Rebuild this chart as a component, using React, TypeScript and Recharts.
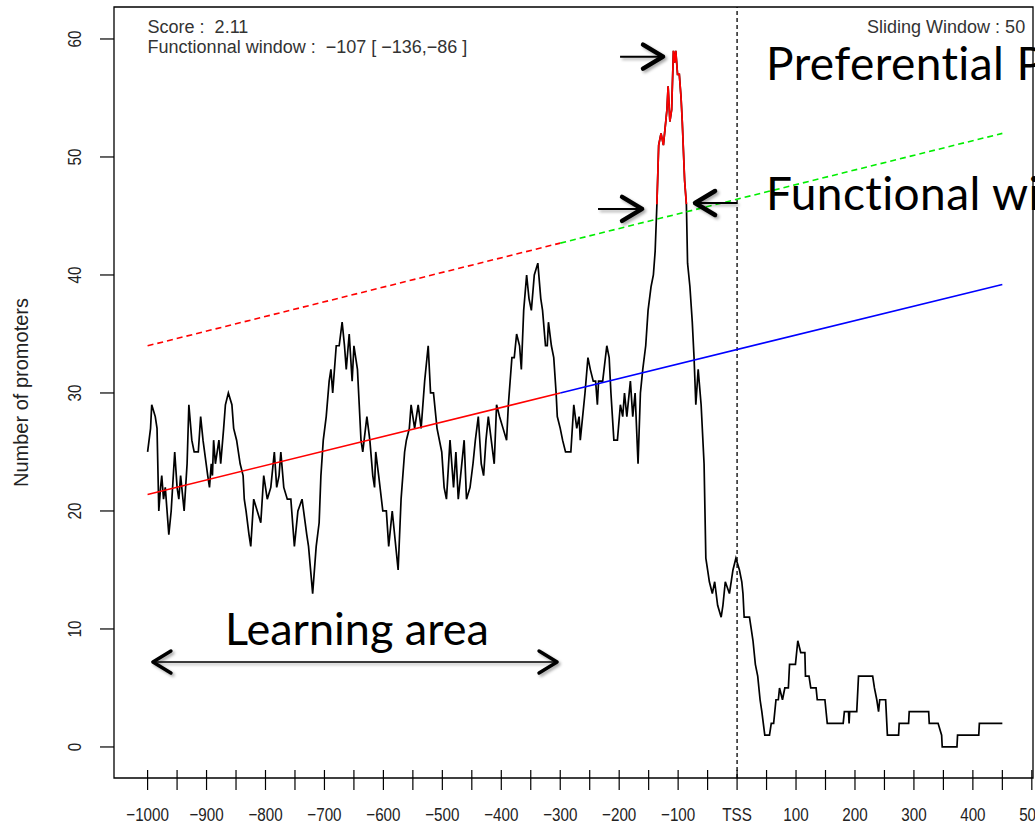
import React from "react";
import {
  LineChart, Line, XAxis, YAxis, ReferenceLine, ReferenceArea, ReferenceDot,
} from "recharts";

// sliding-window promoter counts
const positions = [
  -1000, -995, -993, -987, -984, -981, -978, -976, -973, -970, -964, -960, -954, -950, -947, -944,
  -938, -933, -930, -925, -921, -914, -910, -906, -898, -895, -892, -890, -888, -885, -879, -876,
  -871, -868, -863, -857, -854, -849, -843, -838, -836, -833, -828, -825, -820, -814, -808, -803,
  -797, -791, -785, -781, -777, -774, -769, -763, -757, -751, -745, -738, -730, -727, -720, -714,
  -709, -706, -702, -697, -692, -689, -686, -680, -675, -670, -666, -663, -658, -653, -650, -644,
  -641, -638, -635, -628, -623, -618, -615, -613, -608, -601, -595, -591, -585, -575, -570, -564,
  -561, -556, -553, -547, -541, -536, -530, -524, -520, -515, -511, -509, -501, -497, -493, -487,
  -481, -477, -473, -469, -463, -459, -453, -448, -444, -439, -434, -430, -426, -422, -417, -412,
  -408, -403, -397, -391, -388, -382, -378, -374, -369, -366, -362, -357, -353, -349, -344, -338,
  -333, -330, -325, -322, -320, -315, -311, -307, -305, -300, -296, -291, -282, -277, -272, -268,
  -266, -262, -258, -253, -249, -244, -240, -237, -235, -228, -221, -217, -214, -209, -203, -198,
  -194, -191, -187, -181, -177, -173, -168, -164, -160, -155, -151, -146, -142, -139, -136, -133,
  -129, -125, -121, -119, -117, -114, -111, -108, -106, -104, -101, -98, -95, -93, -89, -86,
  -84, -80, -76, -73, -70, -66, -61, -56, -53, -50, -47, -42, -38, -33, -27, -24,
  -20, -13, -7, -2, 4, 8, 10, 12, 21, 24, 27, 31, 35, 39, 42, 47,
  55, 58, 62, 66, 70, 72, 77, 81, 87, 89, 99, 103, 108, 115, 116, 122,
  125, 134, 136, 149, 153, 180, 182, 189, 190, 191, 203, 206, 230, 233, 237, 240,
  242, 252, 255, 274, 275, 291, 292, 325, 326, 341, 347, 348, 373, 374, 410, 411,
  450,
];
const counts = [
  25, 27, 29, 28, 27, 20, 22, 23, 21, 22, 18, 20, 25, 22, 21, 23,
  20, 24, 29, 26, 25, 25, 28, 26, 23, 22, 24, 23, 26, 24, 26, 24,
  27, 29, 30, 29, 27, 26, 24, 23, 21, 20, 18, 17, 21, 20, 19, 23,
  21, 22, 25, 22, 23, 25, 22, 21, 21, 17, 20, 21, 18, 17, 13, 17,
  19, 23, 26, 28, 31, 32, 30, 34, 34, 36, 34, 32, 35, 31, 34, 32,
  29, 26, 25, 28, 26, 23, 22, 25, 23, 20, 20, 17, 20, 15, 21, 25,
  26, 27, 29, 27, 29, 27, 31, 34, 30, 30, 28, 27, 25, 22, 21, 26,
  22, 25, 21, 23, 26, 21, 22, 24, 26, 28, 24, 23, 26, 28, 26, 24,
  29, 28, 27, 26, 29, 33, 33, 35, 34, 32, 37, 40, 38, 37, 40, 41,
  38, 37, 34, 34, 36, 34, 33, 30, 28, 27, 26, 25, 25, 29, 27, 28,
  26, 28, 30, 33, 32, 31, 31, 29, 31, 31, 34, 33, 30, 26, 26, 29,
  28, 30, 28, 31, 28, 30, 24, 30, 32, 34, 37, 39, 40, 42, 46, 51,
  52, 51, 53, 54, 56, 53, 54, 59, 58, 59, 57, 57, 55, 53, 48, 46,
  41, 39, 36, 33, 29, 32, 29, 24, 16, 15, 14, 13, 14, 12, 11, 12,
  14, 13, 15, 16, 15, 14, 13, 11, 11, 10, 9, 7, 6, 4, 3, 1,
  1, 2, 2, 4, 4, 5, 4, 5, 5, 7, 7, 9, 8, 8, 6, 6,
  5, 5, 4, 4, 2, 2, 3, 3, 2, 3, 3, 6, 6, 5, 4, 3,
  4, 4, 1, 1, 2, 2, 3, 3, 2, 2, 1, 0, 0, 1, 1, 2,
  2,
];

// functional window [-136, -86]
const windowStart = -136;
const windowEnd = -86;

// regression line (learning area -> extrapolation) and its threshold
const fitX = [-1000, -300, 450];
const fitBase = [21.4, 30.0, 39.2];
const fitUpper = [34.0, 42.7, 52.0];

const xTicks = [
  -1000, -950, -900, -850, -800, -750, -700, -650, -600, -550, -500, -450, -400, -350, -300, -250,
  -200, -150, -100, -50, 0, 50, 100, 150, 200, 250, 300, 350, 400, 450, 500,
];
const xLabelValues = [-1000, -900, -800, -700, -600, -500, -400, -300, -200, -100, 0, 100, 200, 300, 400, 500];
const xLabelText = ["−1000", "−900", "−800", "−700", "−600", "−500", "−400", "−300", "−200", "−100", "TSS", "100", "200", "300", "400", "500"];
const yTicks = [0, 10, 20, 30, 40, 50, 60];

const xDomain = [-1057, 502];
const yDomain = [-2.63, 62.71];

const curve = positions.map((x, i) => ({
  x,
  count: counts[i],
  peak: x >= windowStart && x <= windowEnd ? counts[i] : null,
}));
const seg = (ys: number[], a: number, b: number) => [
  { x: fitX[a], v: ys[a] },
  { x: fitX[b], v: ys[b] },
];

const helv = "'Liberation Sans', Arial, sans-serif";
const calibri = "Lato, 'Open Sans', sans-serif";

const XTick = (props: any) => {
  const { x, y, payload } = props;
  const i = xLabelValues.indexOf(payload.value);
  return (
    <g>
      <line x1={x} x2={x} y1={y - 8} y2={y + 12} stroke="#000" strokeWidth={1.2} />
      {i >= 0 && (
        <text transform={`translate(${x} ${y + 43}) scale(0.8 1)`} textAnchor="middle"
          fontFamily={helv} fontSize={19} fill="#222">
          {xLabelText[i]}
        </text>
      )}
    </g>
  );
};

const YTick = (props: any) => {
  const { x, y, payload } = props;
  const tx = x - 19;
  return (
    <text transform={`translate(${tx} ${y}) rotate(-90) scale(0.8 1)`} textAnchor="middle"
      fontFamily={helv} fontSize={19} fill="#222">
      {payload.value}
    </text>
  );
};

const YTitle = (props: any) => {
  const { viewBox } = props;
  const cx = 28;
  const cy = viewBox.y + viewBox.height / 2;
  return (
    <text x={cx} y={cy} transform={`rotate(-90 ${cx} ${cy})`} textAnchor="middle"
      fontFamily={helv} fontSize={20} fill="#222">
      Number of promoters
    </text>
  );
};

const chevron = (tx: number, ty: number, dx: number, dy: number, len: number, half: number) => {
  const l = Math.hypot(dx, dy) || 1;
  const ux = dx / l, uy = dy / l;
  const bx = tx - ux * len, by = ty - uy * len;
  return `M${bx - uy * half},${by + ux * half} L${tx},${ty} L${bx + uy * half},${by - ux * half}`;
};

const arrowShape = (both: boolean, thin: boolean) => (p: any) => {
  const { x1, y1, x2, y2 } = p;
  const dx = x2 - x1, dy = y2 - y1;
  return (
    <g filter="url(#annShadow)">
      <defs>
        <filter id="annShadow" x="-20%" y="-50%" width="140%" height="200%">
          <feDropShadow dx="2" dy="2" stdDeviation="1.5" floodColor="#000" floodOpacity="0.35" />
        </filter>
      </defs>
      <line x1={x1} y1={y1} x2={x2} y2={y2} stroke="#000" strokeWidth={thin ? 1.6 : 2} />
      <path d={chevron(x2, y2, dx, dy, thin ? 18 : 20, thin ? 11 : 12)} fill="none" stroke="#000"
        strokeWidth={thin ? 3.5 : 4.5} strokeLinecap="round" strokeLinejoin="round" />
      {both && (
        <path d={chevron(x1, y1, -dx, -dy, thin ? 18 : 20, thin ? 11 : 12)} fill="none" stroke="#000"
          strokeWidth={thin ? 3.5 : 4.5} strokeLinecap="round" strokeLinejoin="round" />
      )}
    </g>
  );
};

const textShape = (txt: string, opts: any) => (p: any) => (
  <text x={p.cx} y={p.cy} {...opts}>{txt}</text>
);

const nb = "\u00a0";

export default function App() {
  return (
    <div style={{ position: "absolute", left: 0, top: 0, width: 1035, height: 824, overflow: "hidden", background: "#fff" }}>
      <LineChart width={1200} height={824} margin={{ top: 7, right: 167, bottom: 0, left: 0 }}>
        <XAxis dataKey="x" type="number" domain={xDomain} ticks={xTicks} interval={0}
          axisLine={false} tickLine={false} tickSize={0} tickMargin={0} tick={<XTick />} height={46} />
        <YAxis type="number" domain={yDomain} ticks={yTicks} width={114} axisLine={false}
          tickLine={{ stroke: "#000", strokeWidth: 1.2 }} tickSize={14} tickMargin={0}
          tick={<YTick />} label={<YTitle />} />
        <ReferenceArea x1={xDomain[0]} x2={xDomain[1]} y1={yDomain[0]} y2={yDomain[1]} ifOverflow="visible"
          fill="none" fillOpacity={0} stroke="#000" strokeWidth={1.3} />
        <ReferenceLine x={0} stroke="#000" strokeWidth={1.3} strokeDasharray="4 3" />

        <Line data={curve} dataKey="count" type="linear" stroke="#000" strokeWidth={1.7}
          dot={false} isAnimationActive={false} />
        <Line data={seg(fitBase, 0, 1)} dataKey="v" stroke="#ff0000" strokeWidth={1.6} dot={false} isAnimationActive={false} />
        <Line data={seg(fitBase, 1, 2)} dataKey="v" stroke="#0000ff" strokeWidth={1.6} dot={false} isAnimationActive={false} />
        <Line data={seg(fitUpper, 0, 1)} dataKey="v" stroke="#ff0000" strokeWidth={1.6} strokeDasharray="6 4" dot={false} isAnimationActive={false} />
        <Line data={seg(fitUpper, 1, 2)} dataKey="v" stroke="#00ee00" strokeWidth={1.6} strokeDasharray="6 4" dot={false} isAnimationActive={false} />
        <Line data={curve} dataKey="peak" type="linear" stroke="#ff0000" strokeWidth={1.7}
          dot={false} connectNulls={false} isAnimationActive={false} />

        <ReferenceDot x={-1000} y={60.5} r={0} ifOverflow="visible"
          shape={textShape(`Score :${nb}${nb}2.11`, { fontFamily: helv, fontSize: 18, fill: "#333" })} />
        <ReferenceDot x={-1000} y={58.8} r={0} ifOverflow="visible"
          shape={textShape(`Functionnal window :${nb}${nb}−107 [ −136,−86 ]`, { fontFamily: helv, fontSize: 18, fill: "#333" })} />
        <ReferenceDot x={488.7} y={60.5} r={0} ifOverflow="visible"
          shape={textShape("Sliding Window : 50", { fontFamily: helv, fontSize: 18, fill: "#333", textAnchor: "end" })} />

        <ReferenceLine segment={[{ x: -198.5, y: 58.5 }, { x: -125.6, y: 58.5 }]} ifOverflow="visible" shape={arrowShape(false, false)} />
        <ReferenceLine segment={[{ x: -235.9, y: 45.6 }, { x: -161.2, y: 45.6 }]} ifOverflow="visible" shape={arrowShape(false, false)} />
        <ReferenceLine segment={[{ x: 0, y: 46.1 }, { x: -71.3, y: 46.1 }]} ifOverflow="visible" shape={arrowShape(false, false)} />
        <ReferenceLine segment={[{ x: -991, y: 7.2 }, { x: -305.4, y: 7.2 }]} ifOverflow="visible" shape={arrowShape(true, true)} />

        <ReferenceDot x={49.2} y={56.5} r={0} ifOverflow="visible"
          shape={textShape("Preferential Position", { fontFamily: calibri, fontSize: 46, fill: "#000", letterSpacing: 0.4 })} />
        <ReferenceDot x={49.2} y={45.5} r={0} ifOverflow="visible"
          shape={textShape("Functional window", { fontFamily: calibri, fontSize: 46, fill: "#000", letterSpacing: 0.4 })} />
        <ReferenceDot x={-868.8} y={8.6} r={0} ifOverflow="visible"
          shape={textShape("Learning area", { fontFamily: calibri, fontSize: 45, fill: "#000" })} />
      </LineChart>
    </div>
  );
}
